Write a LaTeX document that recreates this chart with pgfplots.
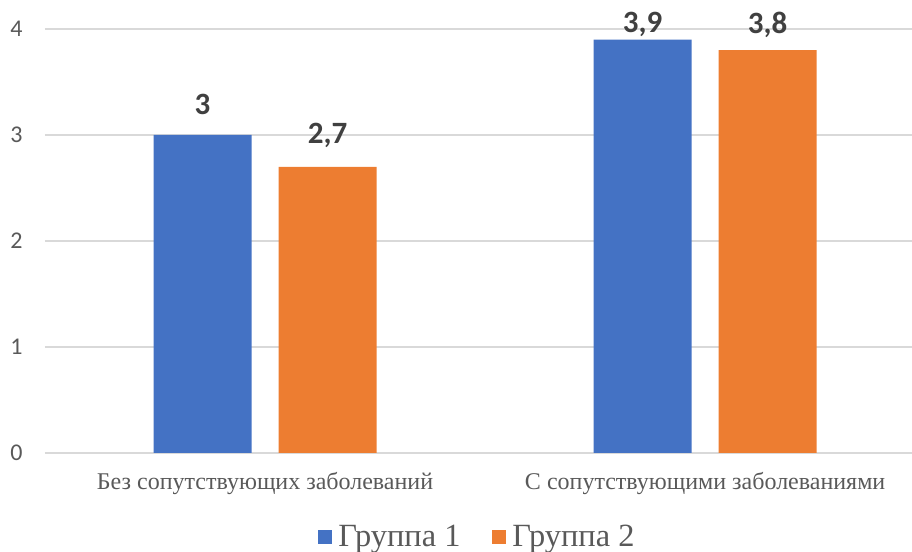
\documentclass[border=0pt]{standalone}
\usepackage{fontspec}
\setmainfont{Liberation Serif}
\newfontfamily\calibri{Carlito}
\usepackage{pgfplots}
\pgfplotsset{compat=1.18}
\usepackage{pgfplotstable}

\definecolor{gblue}{HTML}{4472C4}
\definecolor{gorange}{HTML}{ED7D31}
\definecolor{gridgray}{HTML}{D9D9D9}
\definecolor{txtgray}{HTML}{595959}
\definecolor{lblgray}{HTML}{404040}

% square legend swatch
\pgfplotsset{sqlegend/.style={legend image code/.code={\fill[##1] (0pt,-3.5pt) rectangle (7pt,3.5pt); \path (8pt,0pt);}}}

\pgfplotstableread{
x y
0 3
1 3.9
}\groupone
\pgfplotstableread{
x y
0 2.7
1 3.8
}\grouptwo

\begin{document}
\begin{tikzpicture}
\path[use as bounding box] (0,0) rectangle (456pt,276pt);
\begin{axis}[
  at={(22.5pt,49.5pt)}, anchor=south west,
  scale only axis, width=433.5pt, height=212pt,
  xmin=-0.5, xmax=1.47, ymin=0, ymax=4,
  ytick={0,1,2,3,4},
  xtick={0,1},
  xticklabels={Без сопутствующих заболеваний, С сопутствующими заболеваниями},
  major tick length=0pt,
  axis line style={draw=none},
  ymajorgrids, grid style={gridgray, line width=0.6pt},
  yticklabel style={font=\calibri\fontsize{12}{14}\selectfont, text=txtgray, anchor=east, inner sep=0pt, xshift=-11pt},
  xticklabel style={font=\fontsize{12}{14}\selectfont, text=txtgray, anchor=base, inner sep=0pt, yshift=-18.5pt},
  ybar, bar width=0.2227,
  clip=false,
  /pgf/number format/use comma,
  /pgf/number format/assume math mode=true,
  nodes near coords,
  visualization depends on={y \as \rawy},
  every node near coord/.append style={font=\calibri\bfseries\fontsize{15.5}{18}\selectfont, text=lblgray, anchor=center, inner sep=0pt, yshift={15.5-53*max(0,\rawy-3.748)}},
  legend style={at={(0.5,-0.198)}, anchor=center, draw=none, fill=none, legend columns=2, font=\fontsize{16.2}{19}\selectfont, text=txtgray, /tikz/every even column/.append style={column sep=14pt}},
]
\addplot[fill=gblue, draw=none, bar shift=-0.142, sqlegend] table {\groupone};
\addplot[fill=gorange, draw=none, bar shift=0.142, sqlegend] table {\grouptwo};
\legend{Группа 1, Группа 2}
\end{axis}
\end{tikzpicture}
\end{document}
